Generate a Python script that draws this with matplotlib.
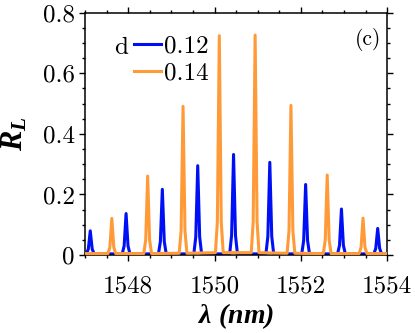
import matplotlib
matplotlib.use("Agg")
import matplotlib.pyplot as plt
from matplotlib.ticker import MultipleLocator, FuncFormatter

# d = 0.12 curve (blue), peaks
blue_wl = [1547.00,
           1547.03, 1547.075, 1547.12, 1547.165, 1547.21,
           1547.86, 1547.905, 1547.95, 1547.995, 1548.04,
           1548.70, 1548.745, 1548.79, 1548.835, 1548.88,
           1549.52, 1549.565, 1549.61, 1549.655, 1549.70,
           1550.35, 1550.395, 1550.44, 1550.485, 1550.53,
           1551.19, 1551.235, 1551.28, 1551.325, 1551.37,
           1552.02, 1552.065, 1552.11, 1552.155, 1552.20,
           1552.85, 1552.895, 1552.94, 1552.985, 1553.03,
           1553.69, 1553.735, 1553.78, 1553.825, 1553.87,
           1554.00]
blue_R = [0.004,
          0.004, 0.020, 0.080, 0.020, 0.004,
          0.004, 0.030, 0.137, 0.030, 0.004,
          0.004, 0.045, 0.217, 0.045, 0.004,
          0.004, 0.060, 0.295, 0.060, 0.004,
          0.004, 0.065, 0.332, 0.065, 0.004,
          0.004, 0.062, 0.306, 0.062, 0.004,
          0.004, 0.048, 0.233, 0.048, 0.004,
          0.004, 0.032, 0.152, 0.032, 0.004,
          0.004, 0.022, 0.088, 0.022, 0.004,
          0.004]

# d = 0.14 curve (orange)
orange_wl = [1547.00,
             1547.53, 1547.575, 1547.62, 1547.665, 1547.71,
             1548.36, 1548.405, 1548.45, 1548.495, 1548.54,
             1549.18, 1549.225, 1549.27, 1549.315, 1549.36,
             1550.02, 1550.065, 1550.11, 1550.155, 1550.20,
             1550.85, 1550.895, 1550.94, 1550.985, 1551.03,
             1551.68, 1551.725, 1551.77, 1551.815, 1551.86,
             1552.52, 1552.565, 1552.61, 1552.655, 1552.70,
             1553.35, 1553.395, 1553.44, 1553.485, 1553.53,
             1554.00]
orange_R = [0.005,
            0.005, 0.026, 0.121, 0.026, 0.005,
            0.005, 0.050, 0.261, 0.050, 0.005,
            0.006, 0.080, 0.491, 0.080, 0.006,
            0.008, 0.110, 0.724, 0.110, 0.008,
            0.008, 0.110, 0.726, 0.110, 0.008,
            0.006, 0.080, 0.494, 0.080, 0.006,
            0.005, 0.050, 0.264, 0.050, 0.005,
            0.005, 0.026, 0.122, 0.026, 0.005,
            0.005]

y_ticks = [0, 0.2, 0.4, 0.6, 0.8]
x_ticks = [1548, 1550, 1552, 1554]

plt.rcParams["font.family"] = "serif"
plt.rcParams["font.serif"] = ["cmr10", "DejaVu Serif"]
plt.rcParams["mathtext.fontset"] = "custom"
plt.rcParams["mathtext.rm"] = "Liberation Serif:bold:italic"
plt.rcParams["mathtext.it"] = "Liberation Serif:bold:italic"
plt.rcParams["mathtext.bf"] = "Liberation Serif:bold:italic"

fig = plt.figure(figsize=(4.15, 3.33), dpi=100)
ax = fig.add_axes([0.205, 0.234, 0.728, 0.728])

ax.plot(blue_wl, blue_R, color="#0010f5", lw=2.2, label="0.12", zorder=2)
ax.plot(orange_wl, orange_R, color="#ff9a38", lw=2.2, label="0.14", zorder=3)

ax.set_xlim(1547, 1554)
ax.set_ylim(0, 0.8)
ax.set_xticks(x_ticks)
ax.set_yticks(y_ticks)
ax.xaxis.set_minor_locator(MultipleLocator(0.5))
ax.yaxis.set_minor_locator(MultipleLocator(0.05))
ax.yaxis.set_major_formatter(FuncFormatter(lambda v, p: "0" if v == 0 else f"{v:.1f}"))
ax.xaxis.set_major_formatter(FuncFormatter(lambda v, p: f"{v:.0f}"))
ax.tick_params(which="both", direction="out", top=True, right=True, width=1.0,
               labelsize=18)
ax.tick_params(which="major", length=4.5)
ax.tick_params(which="minor", length=2.5)
ax.tick_params(axis="x", which="major", pad=10)
ax.tick_params(axis="y", which="major", pad=3)
for s in ax.spines.values():
    s.set_linewidth(1.1)

ax.set_xlabel(r"$\lambda\ (nm)$", fontsize=20, labelpad=3)
ax.set_ylabel(r"$R_L$", fontsize=22, labelpad=10)

ax.legend(loc="upper left", bbox_to_anchor=(0.128, 0.95), frameon=False,
          fontsize=18, handlelength=1.1, handletextpad=0.1, labelspacing=0.2,
          borderaxespad=0)
ax.text(0.143, 0.855, "d", transform=ax.transAxes, fontsize=18, ha="right", va="center")
ax.text(0.98, 0.89, "(c)", transform=ax.transAxes, fontsize=15.5, ha="right", va="center")

fig.savefig("out.png", dpi=100)
